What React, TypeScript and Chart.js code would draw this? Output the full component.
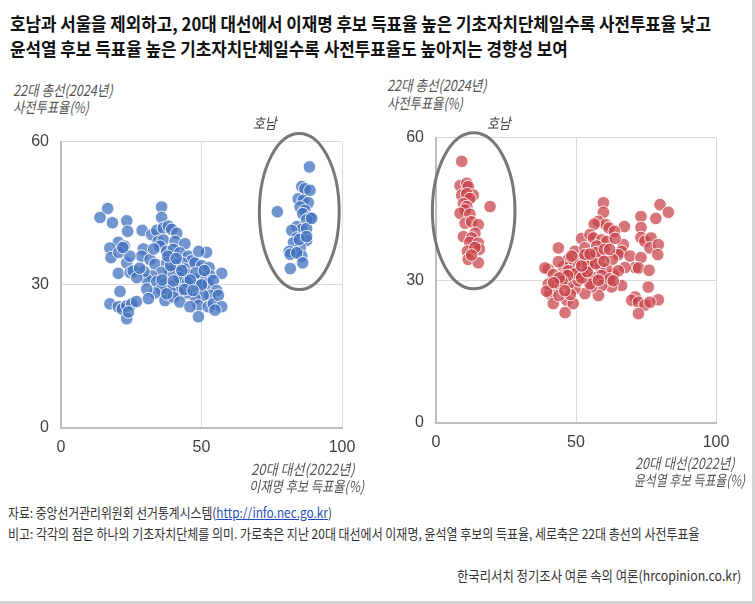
import React, { useEffect, useLayoutEffect, useRef } from "react";
import { Chart, registerables } from "chart.js";

Chart.register(...registerables);

// ---- DATA ----
// Left: x = 20th presidential election Lee Jae-myung share (%), y = 22nd general election early-vote rate (%)
const leeMainland: [number, number][] = [
  [16.6, 46.0], [13.9, 44.1], [18.3, 43.0], [23.4, 43.4], [23.7, 41.2], [20.4, 38.9], [17.4, 37.7], [22.5, 38.1],
  [17.8, 35.7], [20.6, 36.8], [23.4, 34.6], [20.4, 32.4], [24.6, 32.6], [25.7, 32.9], [21.0, 28.6], [17.4, 26.0],
  [20.4, 25.4], [21.8, 24.9], [23.4, 25.6], [25.2, 26.0], [26.9, 26.5], [23.4, 22.9], [24.0, 24.3], [35.8, 46.3],
  [35.8, 44.1], [28.9, 41.4], [32.3, 40.5], [34.1, 41.4], [36.4, 41.9], [38.2, 42.3], [39.4, 41.6], [41.2, 40.8],
  [34.6, 39.1], [36.4, 39.4], [40.6, 39.1], [44.1, 38.6], [29.3, 37.5], [28.7, 36.0], [31.7, 35.3], [33.5, 34.3],
  [35.2, 38.1], [37.6, 37.0], [40.0, 37.4], [42.3, 36.7], [45.3, 36.0], [46.5, 35.0], [51.8, 36.8], [43.0, 34.6],
  [37.6, 34.6], [40.6, 34.3], [44.1, 33.3], [47.7, 34.6], [50.1, 34.0], [52.7, 33.6], [57.2, 32.4], [53.0, 31.9],
  [50.1, 31.5], [47.1, 31.2], [44.7, 32.2], [41.7, 32.6], [38.8, 32.9], [35.8, 32.6], [32.3, 31.9], [30.5, 31.1],
  [34.1, 30.7], [37.0, 30.2], [40.0, 29.8], [43.0, 30.2], [46.5, 29.5], [49.5, 29.8], [52.4, 30.2], [54.2, 30.9],
  [55.4, 28.8], [53.0, 27.8], [50.6, 27.8], [47.7, 27.1], [44.7, 28.3], [41.7, 28.4], [38.8, 28.8], [35.8, 29.1],
  [33.5, 28.3], [30.5, 29.1], [31.1, 27.1], [37.0, 26.7], [40.0, 27.4], [42.3, 26.4], [48.9, 25.7], [52.4, 25.4],
  [54.2, 26.0], [56.0, 27.8], [57.2, 25.4], [54.8, 24.7], [45.9, 25.4], [48.9, 23.3], [37.6, 28.1], [29.5, 32.8],
  [42.0, 31.5], [45.0, 30.5], [48.0, 32.5], [39.0, 34.0], [43.0, 33.0], [46.0, 31.0], [50.0, 30.0], [36.0, 31.0],
  [40.0, 30.8], [44.0, 29.0], [47.0, 28.8], [51.0, 33.0], [38.0, 36.0], [41.0, 35.5], [49.0, 37.0], [33.0, 37.5],
  [27.0, 31.5], [24.5, 36.0], [22.0, 37.8], [28.0, 33.5],
];
const leeHonam: [number, number][] = [
  [88.4, 54.7], [77.0, 45.3], [85.7, 50.6], [86.8, 50.1], [88.6, 49.8], [84.4, 48.0], [86.2, 47.7], [88.0, 47.2],
  [85.1, 46.3], [86.8, 45.6], [86.0, 44.9], [88.6, 44.1], [87.4, 43.6], [83.9, 42.2], [85.7, 41.6], [87.4, 41.8],
  [82.1, 41.4], [83.9, 39.8], [87.4, 39.3], [82.7, 38.8], [85.1, 37.7], [81.2, 37.0], [81.6, 36.4], [85.7, 36.0],
  [83.9, 36.7], [86.0, 34.6], [81.6, 33.4], [84.8, 39.5], [89.2, 43.9], [87.4, 40.1],
];
// Right: x = Yoon Suk-yeol share (%), y = early-vote rate (%)
const yoonMainland: [number, number][] = [
  [59.8, 46.3], [59.8, 44.3], [80.0, 45.9], [83.0, 44.3], [78.5, 43.0], [73.2, 43.4], [73.2, 41.1], [67.3, 41.3],
  [58.0, 42.4], [60.6, 41.7], [61.8, 41.0], [63.7, 40.3], [56.5, 41.8], [52.0, 38.8], [55.0, 39.6], [56.2, 38.9],
  [59.2, 38.5], [61.0, 38.2], [43.7, 36.8], [49.6, 36.1], [53.2, 36.8], [57.4, 37.2], [58.6, 35.1], [66.9, 37.5],
  [66.3, 36.1], [65.1, 35.4], [63.0, 34.4], [73.2, 39.0], [74.6, 38.2], [76.8, 38.9], [76.4, 36.8], [79.4, 37.5],
  [79.2, 35.4], [69.3, 35.1], [73.2, 34.8], [71.1, 32.7], [72.3, 32.6], [76.1, 32.1], [67.5, 32.7], [63.3, 31.3],
  [61.0, 32.3], [58.6, 32.8], [55.6, 34.4], [54.2, 32.8], [51.4, 34.4], [49.6, 33.4], [47.3, 34.4], [45.5, 32.8],
  [43.7, 33.9], [40.1, 32.3], [38.9, 32.6], [41.9, 31.2], [45.5, 31.0], [49.0, 31.2], [52.6, 31.3], [56.2, 30.6],
  [59.2, 31.0], [66.3, 28.9], [71.1, 26.5], [69.9, 25.8], [72.3, 25.4], [74.6, 24.8], [72.3, 23.0], [75.8, 28.6],
  [79.4, 25.9], [76.4, 25.4], [62.7, 28.6], [59.2, 28.9], [58.0, 26.8], [55.6, 28.6], [53.2, 27.2], [49.6, 28.2],
  [46.7, 25.8], [46.1, 23.2], [49.0, 25.1], [43.7, 28.9], [40.7, 27.2], [41.9, 25.1], [40.1, 29.2], [47.3, 29.2],
  [50.8, 29.9], [55.0, 29.2], [62.1, 30.3], [43.9, 26.8], [54.3, 33.4], [53.2, 35.4], [48.5, 35.1], [57.1, 35.8],
  [60.1, 36.5], [65.1, 32.0], [47.3, 32.0], [63.3, 29.9], [39.5, 27.7], [50.0, 31.5], [52.0, 30.5], [47.0, 31.0],
  [45.0, 29.8], [54.0, 31.8], [57.0, 33.5], [60.0, 34.0], [55.0, 35.5], [52.0, 33.0], [48.0, 27.0], [44.0, 30.5],
  [62.0, 36.5], [64.0, 38.8], [58.0, 30.0], [42.0, 29.5], [46.0, 27.8],
];
const yoonHonam: [number, number][] = [
  [9.2, 55.0], [19.3, 45.5], [8.6, 49.9], [11.0, 50.4], [11.5, 49.7], [13.3, 47.9], [9.2, 47.9], [11.0, 48.2],
  [12.1, 47.2], [9.8, 46.1], [11.0, 45.5], [10.4, 44.8], [8.6, 44.1], [12.1, 43.9], [10.4, 42.0], [12.7, 42.3],
  [15.1, 41.7], [13.9, 39.9], [9.8, 39.2], [12.7, 38.9], [12.1, 38.0], [15.1, 37.8], [11.2, 36.1], [15.5, 36.5],
  [13.9, 36.9], [11.5, 34.4], [15.1, 33.7], [12.7, 35.3],
];
// Honam highlight ellipses, in data units: [centerX, centerY, radiusX, radiusY]
const leeHonamEllipse: [number, number, number, number] = [84.8, 45.35, 14.2, 16.35];
const yoonHonamEllipse: [number, number, number, number] = [13.45, 44.6, 14.75, 16.4];

const xTicks = { min: 0, max: 100, step: 50 };
const yTicks = { min: 0, max: 60, step: 30 };

const KR = '"Noto Sans CJK KR", "Noto Sans", sans-serif';

function FitText(props: {
  x: number; y: number; w: number; size: number; lh?: number; weight?: number;
  italic?: boolean; color?: string; children: React.ReactNode;
}) {
  const ref = useRef<HTMLSpanElement>(null);
  const lh = props.lh ?? Math.round(props.size * 1.3);
  useLayoutEffect(() => {
    const el = ref.current;
    if (!el) return;
    const nat = el.offsetWidth;
    if (nat > 0) el.style.transform = `scaleX(${props.w / nat})`;
  }, [props.w]);
  return (
    <span
      ref={ref}
      style={{
        position: "absolute",
        left: props.x,
        top: props.y - lh / 2,
        fontSize: props.size,
        lineHeight: lh + "px",
        fontFamily: KR,
        fontWeight: props.weight ?? 400,
        fontStyle: props.italic ? "italic" : "normal",
        color: props.color ?? "#333",
        whiteSpace: "nowrap",
        transformOrigin: "0 50%",
        display: "inline-block",
      }}
    >
      {props.children}
    </span>
  );
}

function ScatterPanel(props: {
  left: number; top: number; width: number; height: number; padRight: number; axisH: number;
  main: [number, number][]; honam: [number, number][]; ellipse: [number, number, number, number];
  color: string;
}) {
  const ref = useRef<HTMLCanvasElement>(null);
  useEffect(() => {
    if (!ref.current) return;
    const ell = props.ellipse;
    const ellipsePlugin = {
      id: "honamEllipse",
      afterDatasetsDraw(chart: any) {
        const { ctx, scales } = chart;
        const cx = scales.x.getPixelForValue(ell[0]);
        const cy = scales.y.getPixelForValue(ell[1]);
        const rx = Math.abs(scales.x.getPixelForValue(ell[0] + ell[2]) - cx);
        const ry = Math.abs(scales.y.getPixelForValue(ell[1] + ell[3]) - cy);
        ctx.save();
        ctx.beginPath();
        ctx.ellipse(cx, cy, rx, ry, 0, 0, Math.PI * 2);
        ctx.lineWidth = 3;
        ctx.strokeStyle = "#777777";
        ctx.stroke();
        ctx.restore();
      },
    };
    const pts = [...props.main, ...props.honam].map(([x, y]) => ({ x, y }));
    const tickFont = { family: '"Liberation Sans", Arial, sans-serif', size: 16 };
    const chart = new Chart(ref.current, {
      type: "scatter",
      data: {
        datasets: [
          {
            data: pts,
            backgroundColor: props.color,
            borderColor: "rgba(255,255,255,0.9)",
            borderWidth: 1,
            pointRadius: 6.3,
            pointHoverRadius: 6.3,
          },
        ],
      },
      options: {
        animation: false,
        responsive: false,
        maintainAspectRatio: false,
        events: [],
        layout: { padding: { left: 0, right: props.padRight, top: 17, bottom: 0 } },
        plugins: { legend: { display: false }, tooltip: { enabled: false } },
        scales: {
          x: {
            type: "linear",
            min: xTicks.min,
            max: xTicks.max,
            ticks: { stepSize: xTicks.step, padding: 10, color: "#404040", font: tickFont },
            grid: { color: "#dadada", lineWidth: 1, drawTicks: false },
            border: { display: true, color: "#bdbdbd", width: 2 },
            afterFit: (s: any) => { s.height = props.axisH; },
          },
          y: {
            type: "linear",
            min: yTicks.min,
            max: yTicks.max,
            ticks: { stepSize: yTicks.step, padding: 12, color: "#404040", font: tickFont },
            grid: { color: "#dadada", lineWidth: 1, drawTicks: false },
            border: { display: true, color: "#bdbdbd", width: 2 },
            afterFit: (s: any) => { s.width = 61; },
          },
        },
      } as any,
      plugins: [ellipsePlugin],
    });
    return () => chart.destroy();
  }, []);
  return (
    <canvas
      ref={ref}
      width={props.width}
      height={props.height}
      style={{ position: "absolute", left: props.left, top: props.top, width: props.width, height: props.height }}
    />
  );
}

export default function App() {
  const axisColor = "#555555";
  return (
    <div
      style={{
        position: "absolute", left: 0, top: 0, width: 755, height: 604,
        background: "#ffffff", overflow: "hidden", fontFamily: KR,
      }}
    >
      <FitText x={10} y={23} w={701} size={18} weight={700} color="#111">
        호남과 서울을 제외하고, 20대 대선에서 이재명 후보 득표율 높은 기초자치단체일수록 사전투표율 낮고
      </FitText>
      <FitText x={10} y={48} w={558} size={18} weight={700} color="#111">
        윤석열 후보 득표율 높은 기초자치단체일수록 사전투표율도 높아지는 경향성 보여
      </FitText>

      <ScatterPanel left={0} top={120} width={370} height={340} padRight={28} axisH={32}
        main={leeMainland} honam={leeHonam} ellipse={leeHonamEllipse} color="rgba(65,113,190,0.75)" />
      <ScatterPanel left={375} top={116} width={375} height={339} padRight={34} axisH={32}
        main={yoonMainland} honam={yoonHonam} ellipse={yoonHonamEllipse} color="rgba(200,65,70,0.72)" />

      <FitText x={13} y={90} w={100} size={15} italic color={axisColor}>22대 총선(2024년)</FitText>
      <FitText x={13} y={107} w={76} size={15} italic color={axisColor}>사전투표율(%)</FitText>
      <FitText x={387} y={85} w={100} size={15} italic color={axisColor}>22대 총선(2024년)</FitText>
      <FitText x={387} y={103} w={76} size={15} italic color={axisColor}>사전투표율(%)</FitText>

      <FitText x={253} y={123} w={24} size={15} italic color="#404040">호남</FitText>
      <FitText x={487} y={123} w={24} size={15} italic color="#404040">호남</FitText>

      <FitText x={251} y={469} w={104} size={15} italic color={axisColor}>20대 대선(2022년)</FitText>
      <FitText x={249} y={486} w={115} size={15} italic color={axisColor}>이재명 후보 득표율(%)</FitText>
      <FitText x={635} y={463} w={100} size={15} italic color={axisColor}>20대 대선(2022년)</FitText>
      <FitText x={634} y={480} w={111} size={15} italic color={axisColor}>윤석열 후보 득표율(%)</FitText>

      <FitText x={8} y={512} w={324} size={13.5} color="#333">
        자료: 중앙선거관리위원회 선거통계시스템(
        <span style={{ color: "#1f4fbf", textDecoration: "underline" }}>http://info.nec.go.kr</span>)
      </FitText>
      <FitText x={8} y={533} w={692} size={13.5} color="#333">
        비고: 각각의 점은 하나의 기초자치단체를 의미. 가로축은 지난 20대 대선에서 이재명, 윤석열 후보의 득표율, 세로축은 22대 총선의 사전투표율
      </FitText>
      <FitText x={457} y={575} w={284} size={14} color="#333">
        한국리서치 정기조사 여론 속의 여론(hrcopinion.co.kr)
      </FitText>

      <div style={{ position: "absolute", left: 752, top: 0, width: 3, height: 604, background: "#d6d6d6" }} />
      <div style={{ position: "absolute", left: 0, top: 601, width: 755, height: 3, background: "#d6d6d6" }} />
    </div>
  );
}
